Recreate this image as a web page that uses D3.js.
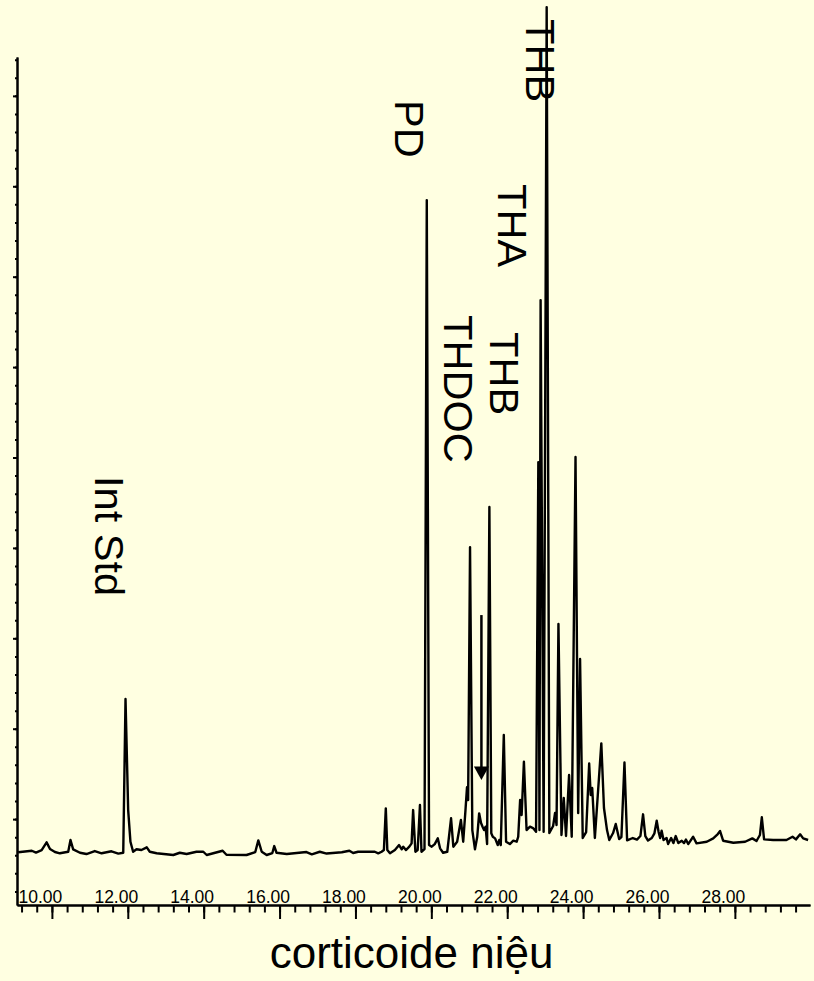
<!DOCTYPE html>
<html>
<head>
<meta charset="utf-8">
<script src="https://cdn.jsdelivr.net/npm/d3@7/dist/d3.min.js"></script>
<style>
  html, body { margin: 0; padding: 0; background: #FFFFE1; }
  svg { display: block; }
  text { font-family: "Liberation Sans", Arial, sans-serif; fill: #000; }
</style>
</head>
<body>
<svg id="chart" width="814" height="981"></svg>
<script>
// Retention time (min) of each trace vertex
const times = [
  9.11, 9.47, 9.58, 9.73, 9.86, 9.95, 10.08, 10.21, 10.43, 10.49, 10.56, 10.74, 10.91, 11.13, 11.31, 11.57, 11.75, 11.88,
  11.94, 12.01, 12.07, 12.14, 12.23, 12.36, 12.50, 12.58, 12.76, 13.20, 13.37, 13.55, 13.81, 13.99, 14.08, 14.50, 14.60,
  15.13, 15.36, 15.44, 15.53, 15.66, 15.81, 15.86, 15.92, 16.19, 16.71, 16.85, 17.06, 17.24, 17.64, 17.84, 17.94, 18.07,
  18.28, 18.51, 18.60, 18.69, 18.75, 18.80, 18.84, 18.91, 19.04, 19.15, 19.22, 19.26, 19.33, 19.42, 19.48, 19.52, 19.58,
  19.64, 19.70, 19.74, 19.82, 19.88, 19.94, 20.01, 20.09, 20.17, 20.23, 20.31, 20.42, 20.52, 20.58, 20.68, 20.78, 20.84,
  20.90, 20.94, 20.97, 21.02, 21.08, 21.15, 21.21, 21.26, 21.31, 21.35, 21.39, 21.43, 21.47, 21.53, 21.58, 21.62, 21.68,
  21.75, 21.79, 21.83, 21.91, 21.97, 22.07, 22.16, 22.25, 22.29, 22.34, 22.38, 22.44, 22.51, 22.60, 22.68, 22.76, 22.82,
  22.85, 22.88, 22.96, 23.04, 23.11, 23.21, 23.26, 23.30, 23.35, 23.43, 23.49, 23.55, 23.63, 23.70, 23.80, 23.87, 23.92,
  23.99, 24.08, 24.16, 24.20, 24.24, 24.31, 24.48, 24.55, 24.63, 24.69, 24.79, 24.86, 24.95, 25.01, 25.09, 25.16, 25.31,
  25.42, 25.51, 25.58, 25.64, 25.71, 25.81, 25.88, 25.94, 25.99, 26.03, 26.07, 26.12, 26.20, 26.24, 26.32, 26.38, 26.44,
  26.51, 26.60, 26.66, 26.71, 26.77, 26.90, 26.99, 27.26, 27.43, 27.55, 27.61, 27.69, 27.96, 28.27, 28.46, 28.57, 28.66,
  28.71, 28.77, 29.01, 29.36, 29.52, 29.61, 29.72, 29.80, 29.93
];

// Detector abundance at each vertex (one major division = 100)
const abundance = [
  63.3, 65.0, 63.0, 65.8, 74.3, 66.9, 63.6, 62.2, 63.9, 76.9, 66.6, 62.8, 61.4, 64.7, 62.2, 64.4, 61.9, 62.8,
  232.8, 110.0, 75.0, 63.9, 66.6, 65.8, 68.8, 63.9, 62.2, 60.3, 62.8, 61.4, 63.9, 63.9, 60.3, 65.0, 60.6,
  60.3, 63.6, 76.5, 63.9, 60.3, 62.5, 70.2, 62.8, 61.4, 63.6, 61.1, 63.9, 61.9, 63.3, 65.0, 62.5, 63.9,
  63.9, 63.9, 62.2, 63.9, 65.8, 111.9, 65.8, 62.2, 65.8, 71.3, 66.6, 69.5, 65.8, 69.5, 73.2, 110.0, 63.9,
  65.8, 115.6, 63.9, 66.9, 784.7, 71.3, 69.5, 72.4, 78.7, 67.7, 62.8, 63.9, 100.9, 69.5, 75.0, 99.0, 75.0,
  110.0, 135.2, 121.1, 400.9, 87.9, 66.6, 80.5, 106.4, 95.7, 91.6, 87.9, 91.6, 72.4, 445.2, 84.3, 80.5, 78.7,
  71.3, 76.9, 71.3, 193.0, 75.0, 72.4, 76.1, 75.0, 80.5, 121.1, 104.5, 163.5, 87.9, 91.6, 90.1, 86.0, 494.9,
  87.9, 674.1, 86.0, 998.2, 84.6, 92.4, 106.7, 93.5, 315.8, 82.4, 123.3, 81.3, 148.8, 80.5, 500.5, 106.7, 277.1,
  79.1, 85.7, 161.5, 126.6, 134.4, 79.1, 183.8, 112.3, 87.9, 76.9, 84.6, 94.6, 78.0, 80.2, 162.6, 76.5, 79.1,
  77.4, 81.3, 105.3, 81.3, 76.3, 79.1, 84.3, 98.2, 85.7, 79.1, 87.2, 76.9, 79.1, 72.4, 79.1, 73.5, 81.3,
  73.5, 76.1, 73.5, 77.4, 72.4, 80.5, 73.2, 75.0, 78.7, 83.5, 86.8, 76.1, 73.9, 75.0, 78.7, 75.8, 82.4,
  102.0, 77.6, 76.9, 76.9, 80.5, 77.6, 83.2, 78.7, 76.9
];

// Axis ticks
const majorTimeTicks = [10, 12, 14, 16, 18, 20, 22, 24, 26, 28];
const minorTimeTicks = d3.range(9.2, 29.9, 0.4);
const majorLevelTicks = d3.range(100, 901, 100);
const minorLevelTicks = d3.range(20, 941, 20);

// Peak annotations (rotated text): name, start time, start level
const peakNames  = ["Int Std", "PD", "THDOC", "THB", "THA", "THB"];
const peakTimes  = [11.13, 19.04, 20.33, 21.54, 21.76, 22.49];
const peakLevels = [479.5, 895.3, 657.5, 638.7, 802.4, 984.9];

// Arrow marking the minor peak
const arrowTime = 21.32;
const arrowFrom = 325.7;
const arrowTo = 143.2;

const axisTitle = "corticoide niệu";

const svg = d3.select("#chart");

const x = d3.scaleLinear().domain([9.08, 29.98]).range([17, 810]);
const y = d3.scaleLinear().domain([5, 943]).range([905, 57]);

// Background
svg.append("rect").attr("width", 814).attr("height", 981).attr("fill", "#FFFFE1");

// X axis: minor then major ticks, labels above the line
svg.append("g").attr("transform", `translate(0,${y(5)})`)
  .call(d3.axisBottom(x).tickValues(minorTimeTicks).tickSize(7.5).tickSizeOuter(0).tickFormat(""));
const xMajor = svg.append("g").attr("transform", `translate(0,${y(5)})`)
  .call(d3.axisBottom(x).tickValues(majorTimeTicks).tickSize(14).tickSizeOuter(0).tickFormat(d3.format(".2f")));
xMajor.selectAll("text")
  .attr("y", -2).attr("dy", 0).attr("dx", -12)
  .style("font-size", "17.5px");

// Y axis
svg.append("g").attr("transform", `translate(${x(9.08)},0)`)
  .call(d3.axisLeft(y).tickValues(minorLevelTicks).tickSize(2).tickSizeOuter(0).tickFormat(""));
svg.append("g").attr("transform", `translate(${x(9.08)},0)`)
  .call(d3.axisLeft(y).tickValues(majorLevelTicks).tickSize(4).tickSizeOuter(0).tickFormat(""));

svg.selectAll(".domain").attr("stroke", "#000").attr("stroke-width", 2);
svg.selectAll(".tick line").attr("stroke", "#000").attr("stroke-width", 2);

// Chromatogram trace
const points = times.map((t, i) => [t, abundance[i]]);
svg.append("path")
  .datum(points)
  .attr("fill", "none")
  .attr("stroke", "#000")
  .attr("stroke-width", 2.4)
  .attr("stroke-linejoin", "round")
  .attr("d", d3.line().x(d => x(d[0])).y(d => y(d[1])));

// Arrow
svg.append("line")
  .attr("x1", x(arrowTime)).attr("x2", x(arrowTime))
  .attr("y1", y(arrowFrom)).attr("y2", y(arrowTo) - 12)
  .attr("stroke", "#000").attr("stroke-width", 2.5);
svg.append("path")
  .attr("d", `M${x(arrowTime) - 7.5},${y(arrowTo) - 13.5} L${x(arrowTime) + 7.5},${y(arrowTo) - 13.5} L${x(arrowTime)},${y(arrowTo)} Z`)
  .attr("fill", "#000");

// Peak labels, rotated to read downward
peakNames.forEach((name, i) => {
  const px = x(peakTimes[i]), py = y(peakLevels[i]);
  svg.append("text")
    .attr("transform", `translate(${px},${py}) rotate(90)`)
    .style("font-size", "41.5px")
    .text(name);
});

// Axis title
svg.append("text")
  .attr("x", x(19.48)).attr("y", 968)
  .attr("text-anchor", "middle")
  .style("font-size", "44px")
  .text(axisTitle);
</script>
</body>
</html>
